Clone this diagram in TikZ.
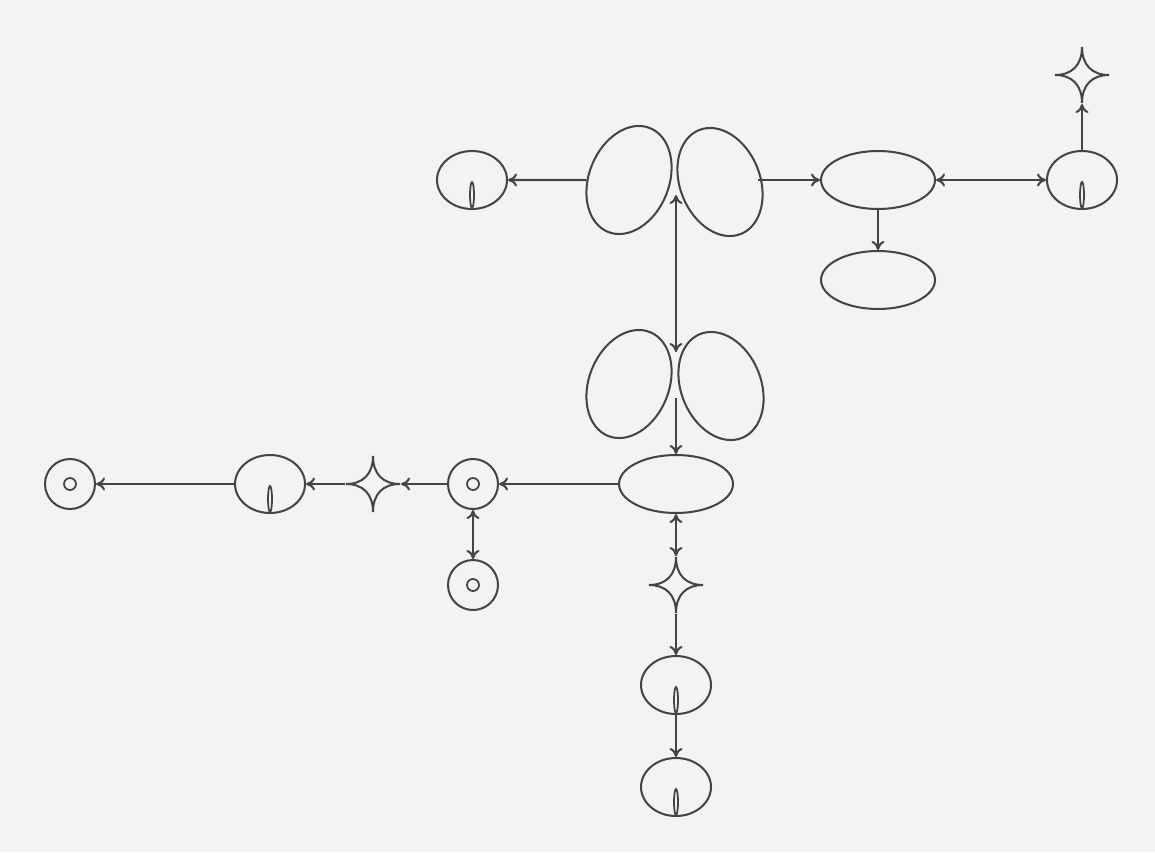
\documentclass[tikz,border=0pt]{standalone}
\usepackage{tikz}
\usetikzlibrary{arrows.meta,positioning,shapes.geometric}
\definecolor{paper}{RGB}{243,243,241}
\definecolor{ink}{RGB}{68,68,68}
% four-pointed star sitting on a named box
\newcommand{\sparkle}[2]{%
  \node[sparkbox] (#1) at (#2) {};
  \draw[ink,shift={(#1.center)}] (0,-28) .. controls (0,-10) and (10,0) .. (27,0)
    .. controls (10,0) and (0,10) .. (0,28) .. controls (0,10) and (-10,0) .. (-27,0)
    .. controls (-10,0) and (0,-10) .. cycle;}

\begin{document}
\begin{tikzpicture}[x=0.02cm,y=-0.02cm,line width=1.15pt,
  >={To[length=1.8mm,width=2.6mm]},
  lobe/.style={ellipse,draw=ink,inner sep=0,minimum width=1.6cm,minimum height=2.24cm},
  oval/.style={ellipse,draw=ink,inner sep=0,minimum width=2.28cm,minimum height=1.16cm},
  eye/.style={ellipse,draw=ink,inner sep=0,minimum width=1.4cm,minimum height=1.16cm,
    path picture={\draw[ink,line width=1pt] ([yshift=-0.3cm]path picture bounding box.center) ellipse (0.04cm and 0.26cm);}},
  target/.style={circle,draw=ink,inner sep=0,minimum size=1cm,
    path picture={\draw[ink,line width=1pt] (path picture bounding box.center) circle (0.12cm);}},
  sparkbox/.style={inner sep=0,minimum width=1.08cm,minimum height=1.12cm},
  link/.style={draw=ink,->},
  both/.style={draw=ink,<->}]
\fill[paper] (0,0) rectangle (1155,852);
\useasboundingbox (0,0) rectangle (1155,852);

% upper pair and its branches
\node[lobe,rotate=-22] (lobeTL) at (629,180) {};
\node[lobe,rotate=22] (lobeTR) at (720,182) {};
\node[eye] (eyeTL) at (472,180) {};
\node[oval] (ovalT) at (878,180) {};
\node[oval] (ovalTB) at (878,280) {};
\node[eye] (eyeTR) at (1082,180) {};
\sparkle{sparkTR}{1082,75}

\draw[link] (lobeTL) -- (eyeTL);
\draw[link] (lobeTR.east |- ovalT) -- (ovalT);
\draw[both] (ovalT) -- (eyeTR);
\draw[link] (ovalT) -- (ovalTB);
\draw[link] (eyeTR) -- (sparkTR);

% lower pair
\node[lobe,rotate=-22] (lobeML) at (629,384) {};
\node[lobe,rotate=22] (lobeMR) at (721,386) {};
\coordinate (gapTop) at (676,195);
\coordinate (gapMid) at (676,352);
\coordinate (gapLow) at (676,398);
\draw[both] (gapTop) -- (gapMid);

\node[oval] (ovalC) at (676,484) {};
\draw[link] (gapLow) -- (ovalC);

% left branch
\node[target] (tgtA) at (473,484) {};
\sparkle{sparkL}{373,484}
\node[eye] (eyeL) at (270,484) {};
\node[target] (tgtL) at (70,484) {};
\node[target] (tgtB) at (473,585) {};
\draw[link] (ovalC) -- (tgtA);
\draw[link] (tgtA) -- (sparkL);
\draw[link] (sparkL) -- (eyeL);
\draw[link] (eyeL) -- (tgtL);
\draw[both] (tgtA) -- (tgtB);

% downward branch
\sparkle{sparkB}{676,585}
\node[eye] (eyeB1) at (676,685) {};
\node[eye] (eyeB2) at (676,787) {};
\draw[both] (ovalC) -- (sparkB);
\draw[link] (sparkB) -- (eyeB1);
\draw[link] (eyeB1) -- (eyeB2);
\end{tikzpicture}
\end{document}
